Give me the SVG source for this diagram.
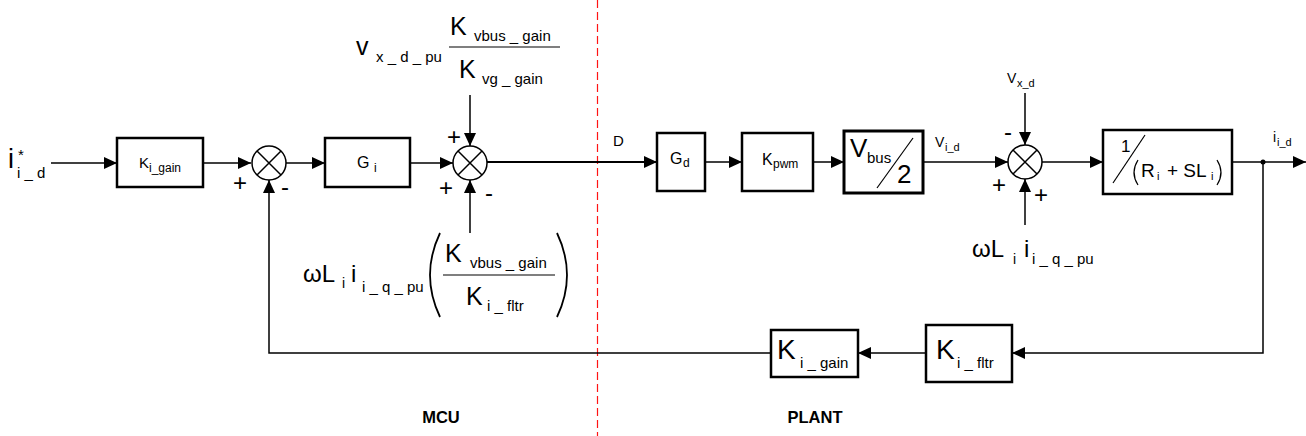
<svg xmlns="http://www.w3.org/2000/svg" width="1306" height="436" viewBox="0 0 1306 436">
<defs>
<marker id="ah" markerUnits="userSpaceOnUse" markerWidth="13" markerHeight="12" refX="13" refY="6" orient="auto"><path d="M0,0 L13,6 L0,12 z" fill="#000"/></marker>
<style>
text{font-family:"Liberation Sans",Arial,sans-serif;fill:#000}
.box{fill:#fff;stroke:#000;stroke-width:2.5}
.ln{fill:none;stroke:#000;stroke-width:1.5}
.sum{fill:#fff;stroke:#000;stroke-width:1.5}
.b{font-size:25px}
.s{font-size:15px}
.m{font-size:15px}
.ms{font-size:12px}
.pm{font-size:24px}
.lbl{font-size:16.5px;font-weight:bold}
.thin{fill:none;stroke:#000;stroke-width:1.2}
</style>
</defs>
<rect width="1306" height="436" fill="#fff"/>
<line x1="597.5" y1="0" x2="597.5" y2="436" stroke="#ff1414" stroke-width="1.2" stroke-dasharray="8,4"/>
<g id="connectors">
<line class="ln" x1="51" y1="163" x2="117" y2="163" marker-end="url(#ah)"/>
<line class="ln" x1="203" y1="163" x2="251" y2="163" marker-end="url(#ah)"/>
<line class="ln" x1="286" y1="163" x2="325" y2="163" marker-end="url(#ah)"/>
<line class="ln" x1="410" y1="163" x2="453" y2="163" marker-end="url(#ah)"/>
<line class="ln" x1="470" y1="95" x2="470" y2="146" marker-end="url(#ah)"/>
<line class="ln" x1="470" y1="233" x2="470" y2="180" marker-end="url(#ah)"/>
<line class="ln" style="stroke-width:2" x1="487" y1="162" x2="657" y2="162" marker-end="url(#ah)"/>
<line class="ln" x1="705" y1="162" x2="742" y2="162" marker-end="url(#ah)"/>
<line class="ln" x1="813" y1="162" x2="844" y2="162" marker-end="url(#ah)"/>
<line class="ln" x1="923" y1="162" x2="1008" y2="162" marker-end="url(#ah)"/>
<line class="ln" x1="1025" y1="93" x2="1025" y2="145" marker-end="url(#ah)"/>
<line class="ln" x1="1025" y1="225" x2="1025" y2="179" marker-end="url(#ah)"/>
<line class="ln" x1="1042" y1="162" x2="1103" y2="162" marker-end="url(#ah)"/>
<line class="ln" x1="1232" y1="162" x2="1306" y2="162" marker-end="url(#ah)"/>
<circle cx="1263" cy="162" r="2.5" fill="#000"/>
<polyline class="ln" points="1263,162 1263,353 1012,353" marker-end="url(#ah)"/>
<line class="ln" x1="926" y1="353" x2="858" y2="353" marker-end="url(#ah)"/>
<polyline class="ln" points="771,353 269,353 269,180" marker-end="url(#ah)"/>
</g>
<g id="input_ref">
<text x="8" y="168" style="font-size:27px">i</text>
<text x="18" y="160" style="font-size:15px">*</text>
<text x="17" y="178" class="s">i _ d</text>
</g>
<g id="k_i_gain_fwd">
<rect class="box" x="117" y="138" width="86" height="49"/>
<text x="139" y="168" class="m">K</text><text x="149" y="172" class="ms">i_gain</text>
</g>
<g id="sum1">
<circle class="sum" cx="269" cy="163" r="17"/>
<path class="ln" d="M257,151 L281,175 M281,151 L257,175"/>
<text x="240" y="191" class="pm" text-anchor="middle">+</text>
<text x="285" y="195" class="pm" text-anchor="middle">-</text>
</g>
<g id="g_i">
<rect class="box" x="325" y="138" width="85" height="49"/>
<text x="357" y="168" style="font-size:16px">G</text><text x="374" y="172" class="ms">i</text>
</g>
<g id="sum2">
<circle class="sum" cx="470" cy="163" r="17"/>
<path class="ln" d="M458,151 L482,175 M482,151 L458,175"/>
<text x="454" y="145" class="pm" text-anchor="middle">+</text>
<text x="446" y="196" class="pm" text-anchor="middle">+</text>
<text x="489" y="201" class="pm" text-anchor="middle">-</text>
</g>
<g id="ff_vx">
<text x="356" y="55" class="b">v</text>
<text x="376" y="62" class="s">x _ d _ pu</text>
<text x="450" y="35" class="b">K</text>
<text x="474" y="41" class="s">vbus _ gain</text>
<line x1="449" y1="47" x2="560" y2="47" stroke="#000" stroke-width="1.2"/>
<text x="459" y="78" class="b">K</text>
<text x="482" y="84" class="s">vg _ gain</text>
</g>
<g id="ff_wl">
<text x="303" y="282" style="font-size:24px">ωL</text>
<text x="342" y="288" style="font-size:14px">i</text>
<text x="351" y="282" style="font-size:24px">i</text>
<text x="362" y="292" class="s">i _ q _ pu</text>
<path d="M440,233 Q420,275 440,317" fill="none" stroke="#000" stroke-width="1.8"/>
<path d="M557,233 Q577,275 557,317" fill="none" stroke="#000" stroke-width="1.8"/>
<text x="445" y="262" class="b">K</text>
<text x="470" y="268" class="s">vbus _ gain</text>
<line x1="443" y1="275" x2="555" y2="275" stroke="#000" stroke-width="1.2"/>
<text x="466" y="305" class="b">K</text>
<text x="487" y="311" class="s">i _ fltr</text>
</g>
<g id="d_label"><text x="613" y="146" class="m">D</text></g>
<g id="g_d">
<rect class="box" x="657" y="133" width="48" height="58"/>
<text x="670" y="164" style="font-size:16px">G</text><text x="683" y="167" class="ms">d</text>
</g>
<g id="k_pwm">
<rect class="box" x="742" y="133" width="71" height="58"/>
<text x="762" y="165" style="font-size:16px">K</text><text x="773" y="168" class="ms">pwm</text>
</g>
<g id="vbus_half">
<rect class="box" style="stroke-width:3" x="844" y="131" width="79" height="62"/>
<text x="850" y="157" style="font-size:26px">V</text>
<text x="867" y="163" class="s">bus</text>
<line x1="913" y1="138" x2="877" y2="188" stroke="#000" stroke-width="1.2"/>
<text x="897" y="183" style="font-size:26px">2</text>
</g>
<g id="vid_label">
<text x="935" y="147" style="font-size:14px">V</text><text x="945" y="151" style="font-size:11px">i_d</text>
</g>
<g id="vxd_label">
<text x="1007" y="83" style="font-size:14px">V</text><text x="1017" y="87" style="font-size:11px">x_d</text>
</g>
<g id="sum3">
<circle class="sum" cx="1025" cy="162" r="17"/>
<path class="ln" d="M1013,150 L1037,174 M1037,150 L1013,174"/>
<text x="1008" y="140" class="pm" text-anchor="middle">-</text>
<text x="999" y="193" class="pm" text-anchor="middle">+</text>
<text x="1041" y="203" class="pm" text-anchor="middle">+</text>
</g>
<g id="ff_wl_plant">
<text x="972" y="257" style="font-size:24px">ωL</text>
<text x="1013" y="264" style="font-size:14px">i</text>
<text x="1024" y="257" style="font-size:24px">i</text>
<text x="1032" y="264" class="s">i _ q _ pu</text>
</g>
<g id="plant_tf">
<rect class="box" x="1103" y="130" width="129" height="64"/>
<text x="1121" y="152" style="font-size:17px">1</text>
<line x1="1145" y1="135" x2="1113" y2="183" stroke="#000" stroke-width="1.2"/>
<path class="thin" d="M1138,160 Q1130,172.5 1138,185"/>
<text x="1141" y="177" style="font-size:19px">R</text>
<text x="1157" y="180" style="font-size:11px">i</text>
<text x="1167" y="177" style="font-size:19px">+ SL</text>
<text x="1211" y="180" style="font-size:11px">i</text>
<path class="thin" d="M1217,160 Q1225,172.5 1217,185"/>
</g>
<g id="iid_label">
<text x="1273" y="142" style="font-size:14px">i</text><text x="1277" y="146" style="font-size:11px">i_d</text>
</g>
<g id="k_i_fltr">
<rect class="box" x="926" y="325" width="86" height="57"/>
<text x="936" y="359" style="font-size:28px">K</text>
<text x="957" y="368" class="s">i _ fltr</text>
</g>
<g id="k_i_gain_fb">
<rect class="box" x="771" y="330" width="87" height="47"/>
<text x="777" y="359" style="font-size:28px">K</text>
<text x="800" y="368" class="s">i _ gain</text>
</g>
<g id="region_labels">
<text x="441" y="423" class="lbl" text-anchor="middle">MCU</text>
<text x="815" y="423" class="lbl" text-anchor="middle">PLANT</text>
</g>
</svg>
